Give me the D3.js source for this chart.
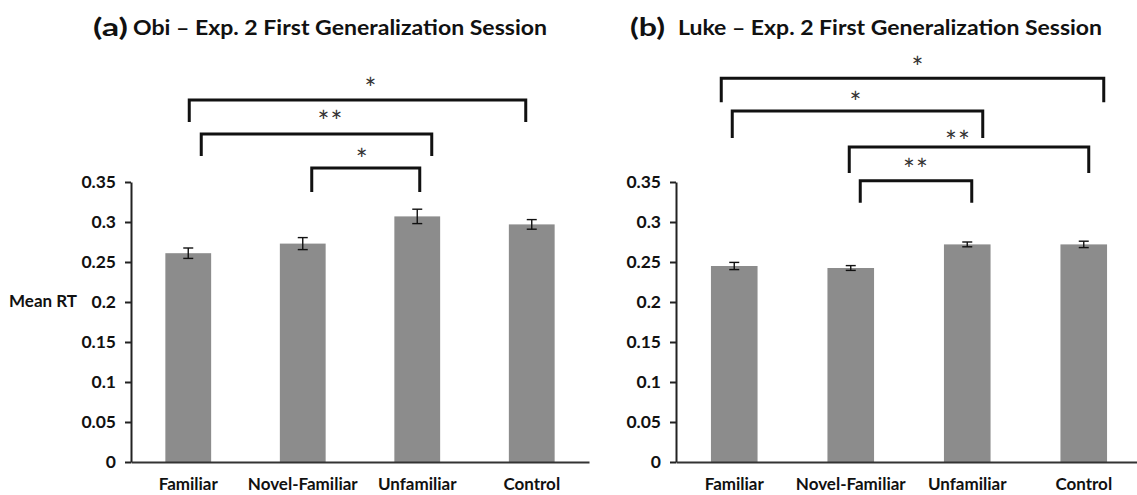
<!DOCTYPE html>
<html>
<head>
<meta charset="utf-8">
<script src="https://cdn.jsdelivr.net/npm/d3@7"></script>
<style>
  html, body { margin: 0; padding: 0; background: #fff; }
  svg { display: block; }
  text { font-family: Lato, "Open Sans", sans-serif; }
</style>
</head>
<body>
<svg id="chart" width="1137" height="495"></svg>
<script>
// ---------------- DATA ----------------
const categories = ["Familiar", "Novel-Familiar", "Unfamiliar", "Control"];
const yTickValues = [0, 0.05, 0.1, 0.15, 0.2, 0.25, 0.3, 0.35];
const yTickLabels = ["0", "0.05", "0.1", "0.15", "0.2", "0.25", "0.3", "0.35"];

const obiMeans  = [0.261, 0.273, 0.307, 0.297];
const obiErrors = [0.0065, 0.0075, 0.009, 0.006];
const lukeMeans  = [0.245, 0.2425, 0.272, 0.272];
const lukeErrors = [0.0045, 0.003, 0.003, 0.004];

const obiTitleTag = "(a)";
const obiTitle = "Obi \u2013 Exp. 2 First Generalization Session";
const lukeTitleTag = "(b)";
const lukeTitle = "Luke \u2013 Exp. 2 First Generalization Session";
const yAxisLabel = "Mean RT";

// significance brackets: from, to, bracket level (in RT units), label
const obiBrackets = [
  ["Familiar", "Control", 0.4525, "*"],
  ["Familiar", "Unfamiliar", 0.41, "**"],
  ["Novel-Familiar", "Unfamiliar", 0.3675, "*"]
];
const lukeBrackets = [
  ["Familiar", "Control", 0.4796, "*"],
  ["Familiar", "Unfamiliar", 0.4388, "*"],
  ["Novel-Familiar", "Control", 0.3938, "**"],
  ["Novel-Familiar", "Unfamiliar", 0.3516, "**"]
];

// ---------------- DRAWING ----------------
const svg = d3.select("#chart");

function drawPanel(cfg) {
  const g = svg.append("g");
  const x = d3.scaleBand().domain(categories)
    .range([cfg.x0, cfg.x1]).paddingInner(0.6).paddingOuter(0.3);
  const y = d3.scaleLinear().domain([0, 0.35]).range([462, 182]);

  // bars
  g.selectAll("rect.bar").data(cfg.means).enter().append("rect")
    .attr("class", "bar")
    .attr("x", (d, i) => x(categories[i]))
    .attr("width", x.bandwidth())
    .attr("y", d => y(d))
    .attr("height", d => y(0) - y(d))
    .attr("fill", "#8c8c8c");

  // error bars
  const cap = 5;
  const eb = g.selectAll("g.err").data(cfg.means).enter().append("g").attr("class", "err");
  eb.append("line")
    .attr("x1", (d, i) => x(categories[i]) + x.bandwidth() / 2)
    .attr("x2", (d, i) => x(categories[i]) + x.bandwidth() / 2)
    .attr("y1", (d, i) => y(d - cfg.errors[i]))
    .attr("y2", (d, i) => y(d + cfg.errors[i]));
  eb.append("line")
    .attr("x1", (d, i) => x(categories[i]) + x.bandwidth() / 2 - cap)
    .attr("x2", (d, i) => x(categories[i]) + x.bandwidth() / 2 + cap)
    .attr("y1", (d, i) => y(d + cfg.errors[i]))
    .attr("y2", (d, i) => y(d + cfg.errors[i]));
  eb.append("line")
    .attr("x1", (d, i) => x(categories[i]) + x.bandwidth() / 2 - cap)
    .attr("x2", (d, i) => x(categories[i]) + x.bandwidth() / 2 + cap)
    .attr("y1", (d, i) => y(d - cfg.errors[i]))
    .attr("y2", (d, i) => y(d - cfg.errors[i]));
  eb.selectAll("line").attr("stroke", "#111").attr("stroke-width", 1.4);

  // y axis
  const yAxis = d3.axisLeft(y).tickValues(yTickValues)
    .tickFormat((d, i) => yTickLabels[i]).tickSize(6).tickSizeOuter(0).tickPadding(9);
  const ya = g.append("g").attr("transform", `translate(${cfg.x0},0)`).call(yAxis);
  ya.select(".domain").attr("stroke", "#222").attr("stroke-width", 2);
  ya.selectAll(".tick line").attr("stroke", "#222").attr("stroke-width", 2);
  ya.selectAll(".tick text").attr("font-size", 17.5).attr("font-weight", 700)
    .attr("fill", "#111").attr("font-family", "Lato, sans-serif");

  // x axis
  const xAxis = d3.axisBottom(x).tickSize(0).tickSizeOuter(0).tickPadding(16);
  const xa = g.append("g").attr("transform", `translate(0,${y(0)})`).call(xAxis);
  xa.select(".domain").attr("stroke", "#333").attr("stroke-width", 2);
  xa.selectAll(".tick text").attr("font-size", 17).attr("font-weight", 700)
    .attr("fill", "#111").attr("font-family", "Lato, sans-serif");

  // brackets
  cfg.brackets.forEach((b, i) => {
    const nudge = cfg.nudges[i];
    const xl = x(b[0]) + x.bandwidth() / 2 + nudge[0];
    const xr = x(b[1]) + x.bandwidth() / 2 + nudge[1];
    const yl = y(b[2]);
    const drop = nudge[3];
    g.append("path")
      .attr("d", `M${xl},${yl + drop}V${yl}H${xr}V${yl + drop}`)
      .attr("fill", "none").attr("stroke", "#111").attr("stroke-width", 3);
    g.append("text")
      .attr("x", (xl + xr) / 2 + nudge[2])
      .attr("y", yl - nudge[4])
      .attr("text-anchor", "middle")
      .attr("font-size", 28)
      .attr("letter-spacing", b[3].length > 1 ? 1 : 0)
      .attr("fill", "#333")
      .attr("font-family", "'DejaVu Sans', sans-serif")
      .text(b[3]);
  });

  // title
  g.append("text").attr("x", cfg.tagX).attr("y", 36)
    .attr("font-size", 25).attr("font-weight", 700).attr("fill", "#111")
    .attr("textLength", 35).attr("lengthAdjust", "spacingAndGlyphs")
    .text(cfg.tag);
  g.append("text").attr("x", cfg.titleX).attr("y", 35)
    .attr("font-size", 21).attr("font-weight", 700).attr("fill", "#111")
    .attr("textLength", cfg.titleW).attr("lengthAdjust", "spacingAndGlyphs")
    .text(cfg.title);
  return { x, y, g };
}

const left = drawPanel({
  x0: 131, x1: 589, means: obiMeans, errors: obiErrors, brackets: obiBrackets,
  // [left dx, right dx, label dx, drop, label rise]
  nudges: [[1, -6, 13, 22, 0.6], [13, 14.5, 14, 22, 1.6], [9, 2.5, -4, 24, -2.4]],
  tag: obiTitleTag, tagX: 93, title: obiTitle, titleX: 133, titleW: 414
});
const right = drawPanel({
  x0: 676, x1: 1142, means: lukeMeans, errors: lukeErrors, brackets: lukeBrackets,
  nudges: [[-13, 20, 5, 24, 0], [-2, 15.5, -2, 27, -2.4], [-1.5, 5, -11, 26, -5.4], [9.5, 4.5, 0, 22, 0.3]],
  tag: lukeTitleTag, tagX: 630, title: lukeTitle, titleX: 678, titleW: 424
});

// y axis label (left panel only)
svg.append("text").attr("x", 9).attr("y", 307)
  .attr("font-size", 17).attr("font-weight", 700).attr("fill", "#111")
  .attr("font-family", "Lato, sans-serif")
  .text(yAxisLabel);
</script>
</body>
</html>
